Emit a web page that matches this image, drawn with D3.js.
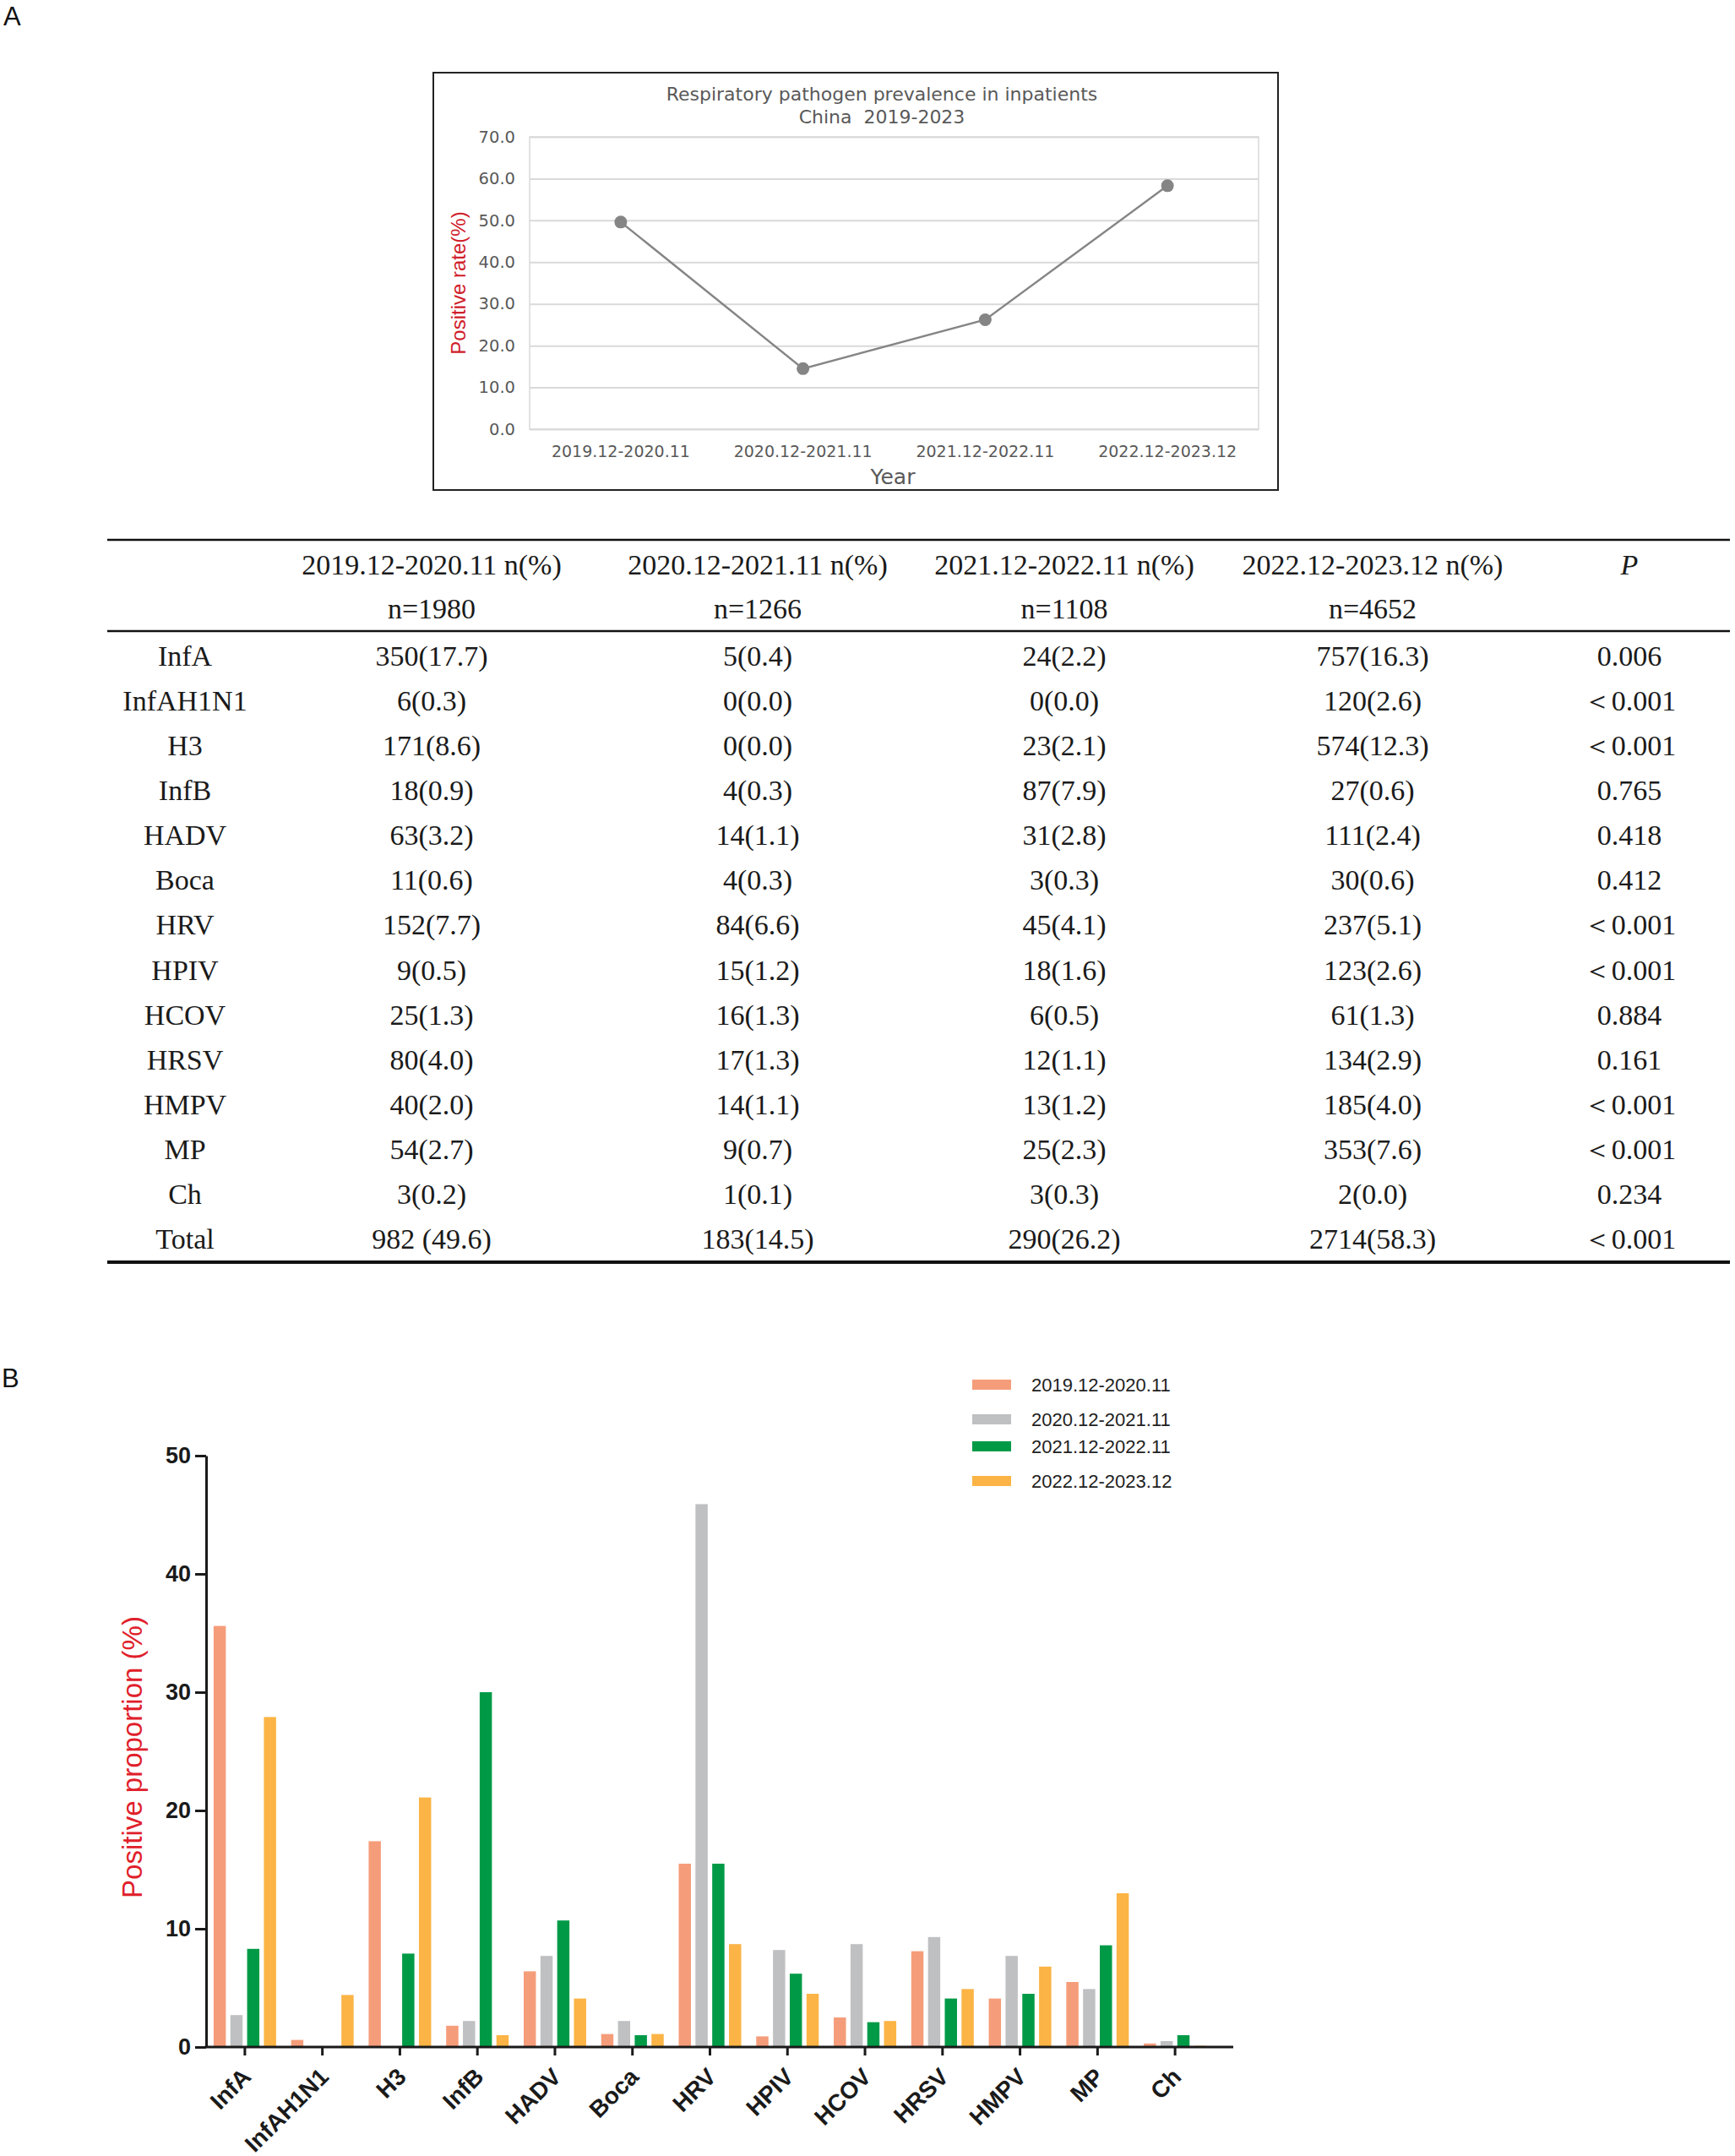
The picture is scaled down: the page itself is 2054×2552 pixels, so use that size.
<!DOCTYPE html>
<html>
<head>
<meta charset="utf-8">
<script src="https://cdn.jsdelivr.net/npm/d3@7"></script>
<style>
  body { margin: 0; background: #fff; }
</style>
</head>
<body>
<script>
// ---- data ----
var periods = ["2019.12-2020.11", "2020.12-2021.11", "2021.12-2022.11", "2022.12-2023.12"];
var totalRate = [49.6, 14.5, 26.2, 58.3];
var sampleSizes = ["n=1980", "n=1266", "n=1108", "n=4652"];

var pathogens = ["InfA", "InfAH1N1", "H3", "InfB", "HADV", "Boca", "HRV", "HPIV", "HCOV", "HRSV", "HMPV", "MP", "Ch"];
var rowNames = pathogens.concat(["Total"]);

var cells2019 = ["350(17.7)", "6(0.3)", "171(8.6)", "18(0.9)", "63(3.2)", "11(0.6)", "152(7.7)", "9(0.5)", "25(1.3)", "80(4.0)", "40(2.0)", "54(2.7)", "3(0.2)", "982 (49.6)"];
var cells2020 = ["5(0.4)", "0(0.0)", "0(0.0)", "4(0.3)", "14(1.1)", "4(0.3)", "84(6.6)", "15(1.2)", "16(1.3)", "17(1.3)", "14(1.1)", "9(0.7)", "1(0.1)", "183(14.5)"];
var cells2021 = ["24(2.2)", "0(0.0)", "23(2.1)", "87(7.9)", "31(2.8)", "3(0.3)", "45(4.1)", "18(1.6)", "6(0.5)", "12(1.1)", "13(1.2)", "25(2.3)", "3(0.3)", "290(26.2)"];
var cells2022 = ["757(16.3)", "120(2.6)", "574(12.3)", "27(0.6)", "111(2.4)", "30(0.6)", "237(5.1)", "123(2.6)", "61(1.3)", "134(2.9)", "185(4.0)", "353(7.6)", "2(0.0)", "2714(58.3)"];
var pValues = ["0.006", "＜0.001", "＜0.001", "0.765", "0.418", "0.412", "＜0.001", "＜0.001", "0.884", "0.161", "＜0.001", "＜0.001", "0.234", "＜0.001"];

// positive proportion (%) among positives, per period
var prop2019 = [35.6, 0.6, 17.4, 1.8, 6.4, 1.1, 15.5, 0.9, 2.5, 8.1, 4.1, 5.5, 0.3];
var prop2020 = [2.7, 0, 0, 2.2, 7.7, 2.2, 45.9, 8.2, 8.7, 9.3, 7.7, 4.9, 0.5];
var prop2021 = [8.3, 0, 7.9, 30.0, 10.7, 1.0, 15.5, 6.2, 2.1, 4.1, 4.5, 8.6, 1.0];
var prop2022 = [27.9, 4.4, 21.1, 1.0, 4.1, 1.1, 8.7, 4.5, 2.2, 4.9, 6.8, 13.0, 0.1];

var seriesColors = ["#f59d7a", "#bfc0c2", "#009a47", "#fbb445"];

var SANS = "Liberation Sans, Arial, sans-serif",
  WIDE = "DejaVu Sans, Verdana, sans-serif",
  SERIF = "Liberation Serif, Times New Roman, serif";

// ---- page ----
var svg = d3.select("body").append("svg")
  .attr("width", 2054)
  .attr("height", 2552)
  .style("font-family", SANS);

svg.append("rect").attr("width", 2054).attr("height", 2552).attr("fill", "#fff");

svg.append("text").attr("x", 4).attr("y", 30).style("font-size", "31px").attr("fill", "#111").text("A");
svg.append("text").attr("x", 2).attr("y", 1642).style("font-size", "31px").attr("fill", "#111").text("B");

/* ---------- line chart (panel A, top) ---------- */
function drawLineChart() {
  var L = 627, R = 1490, T = 162, B = 508;
  var g = svg.append("g").style("font-family", WIDE);

  g.append("rect")
    .attr("x", 513).attr("y", 86).attr("width", 1000).attr("height", 494)
    .attr("fill", "none").attr("stroke", "#222").attr("stroke-width", 2);

  var title = g.append("text").attr("text-anchor", "middle").attr("fill", "#595959")
    .style("font-size", "22px").style("white-space", "pre");
  title.append("tspan").attr("x", 1044).attr("y", 119).text("Respiratory pathogen prevalence in inpatients");
  title.append("tspan").attr("x", 1044).attr("y", 146).text("China  2019-2023");

  var x = d3.scaleBand().domain(periods).range([L, R]);
  var y = d3.scaleLinear().domain([0, 70]).range([B, T]);

  var yAxis = g.append("g")
    .attr("transform", "translate(" + L + ",0)")
    .call(d3.axisLeft(y).ticks(7).tickSize(-(R - L)).tickPadding(17).tickFormat(d3.format(".1f")));
  yAxis.select(".domain").remove();
  yAxis.selectAll("line").attr("stroke", "#d9d9d9").attr("stroke-width", 2);
  yAxis.selectAll("text").attr("fill", "#595959")
    .style("font-size", "19.5px").style("font-family", WIDE);

  g.append("rect")
    .attr("x", L).attr("y", T).attr("width", R - L).attr("height", B - T)
    .attr("fill", "none").attr("stroke", "#d9d9d9").attr("stroke-width", 1.5);

  var xAxis = g.append("g")
    .attr("transform", "translate(0," + B + ")")
    .call(d3.axisBottom(x).tickSize(0).tickPadding(20));
  xAxis.select(".domain").remove();
  xAxis.selectAll("text").attr("fill", "#595959")
    .style("font-size", "19px").style("font-family", WIDE);

  var pts = periods.map(function (p, i) { return { p: p, v: totalRate[i] }; });
  var line = d3.line()
    .x(function (d) { return x(d.p) + x.bandwidth() / 2; })
    .y(function (d) { return y(d.v); });

  g.append("path").datum(pts)
    .attr("d", line).attr("fill", "none")
    .attr("stroke", "#858585").attr("stroke-width", 2.4);

  g.selectAll("circle.pt").data(pts).enter().append("circle")
    .attr("class", "pt")
    .attr("cx", function (d) { return x(d.p) + x.bandwidth() / 2; })
    .attr("cy", function (d) { return y(d.v); })
    .attr("r", 7.5)
    .attr("fill", "#858585");

  g.append("text").attr("x", 1057).attr("y", 573).attr("text-anchor", "middle")
    .attr("fill", "#595959").style("font-size", "25px").text("Year");

  g.append("text")
    .attr("transform", "translate(551,335) rotate(-90)")
    .attr("text-anchor", "middle")
    .style("font-family", SANS)
    .attr("fill", "#d0202a").style("font-size", "24px")
    .text("Positive rate(%)");
}

/* ---------- table (panel A, bottom) ---------- */
function drawTable() {
  var colX = [219, 511, 897, 1260, 1625, 1929];
  var g = svg.append("g")
    .style("font-family", SERIF)
    .style("font-size", "34px").attr("fill", "#1a1a1a").attr("text-anchor", "middle");

  function rule(yy, w) {
    g.append("line").attr("x1", 127).attr("x2", 2048).attr("y1", yy).attr("y2", yy)
      .attr("stroke", "#111").attr("stroke-width", w);
  }
  rule(639, 2.5);
  rule(747, 2.5);
  rule(1494, 4);

  var head = periods.map(function (p) { return p + " n(%)"; });
  g.selectAll("text.h1").data(head).enter().append("text")
    .attr("class", "h1")
    .attr("x", function (d, i) { return colX[i + 1]; })
    .attr("y", 680)
    .text(function (d) { return d; });
  g.append("text").attr("x", colX[5]).attr("y", 680).style("font-style", "italic").text("P");

  g.selectAll("text.h2").data(sampleSizes).enter().append("text")
    .attr("class", "h2")
    .attr("x", function (d, i) { return colX[i + 1]; })
    .attr("y", 732)
    .text(function (d) { return d; });

  var columns = [rowNames, cells2019, cells2020, cells2021, cells2022, pValues];
  var rowY = d3.scaleLinear().domain([0, 13]).range([788, 1478]);

  columns.forEach(function (col, c) {
    g.selectAll("text.c" + c).data(col).enter().append("text")
      .attr("class", "c" + c)
      .attr("x", colX[c])
      .attr("y", function (d, i) { return rowY(i); })
      .text(function (d) { return d; });
  });
}

/* ---------- grouped bars (panel B) ---------- */
function drawBars() {
  var axisY = 2423, topY = 1723, L = 244;
  var series = [prop2019, prop2020, prop2021, prop2022];
  var g = svg.append("g");

  var x0 = d3.scaleBand().domain(pathogens).range([L, 1437]);
  var x1 = d3.scaleBand().domain(periods).range([-37, 37]).paddingInner(0.27);
  var y = d3.scaleLinear().domain([0, 50]).range([axisY, topY]);

  var groups = g.selectAll("g.grp").data(pathogens).enter().append("g")
    .attr("class", "grp")
    .attr("transform", function (d) { return "translate(" + (x0(d) + x0.bandwidth() / 2) + ",0)"; });

  groups.selectAll("rect").data(function (d, i) {
    return periods.map(function (p, s) { return { p: p, s: s, v: series[s][i] }; });
  }).enter().append("rect")
    .attr("x", function (d) { return x1(d.p); })
    .attr("width", x1.bandwidth())
    .attr("y", function (d) { return y(d.v); })
    .attr("height", function (d) { return axisY - y(d.v); })
    .attr("fill", function (d) { return seriesColors[d.s]; });

  var yAxis = g.append("g")
    .attr("transform", "translate(" + L + ",0)")
    .call(d3.axisLeft(y).ticks(5).tickSize(13).tickSizeOuter(0).tickPadding(5));
  yAxis.select(".domain").attr("stroke", "#1a1a1a").attr("stroke-width", 3);
  yAxis.selectAll("line").attr("stroke", "#1a1a1a").attr("stroke-width", 3);
  yAxis.selectAll("text").attr("fill", "#1a1a1a")
    .style("font-size", "27px").style("font-weight", "bold").style("font-family", SANS);

  var xAxis = g.append("g")
    .attr("transform", "translate(0," + axisY + ")")
    .call(d3.axisBottom(x0).tickSize(10).tickSizeOuter(0));
  xAxis.select(".domain").remove();
  xAxis.selectAll("line").attr("stroke", "#1a1a1a").attr("stroke-width", 3);
  xAxis.selectAll("text")
    .attr("y", null).attr("dy", null)
    .attr("text-anchor", "end")
    .attr("transform", "translate(9,37) rotate(-45)")
    .attr("fill", "#1a1a1a")
    .style("font-size", "28px").style("font-weight", "bold").style("font-family", SANS);

  g.append("line").attr("x1", L - 1.5).attr("x2", 1460).attr("y1", axisY).attr("y2", axisY)
    .attr("stroke", "#1a1a1a").attr("stroke-width", 3);

  g.append("text")
    .attr("transform", "translate(168,2080) rotate(-90)")
    .attr("text-anchor", "middle")
    .attr("fill", "#e0202a").style("font-size", "33px")
    .text("Positive proportion (%)");

  // legend, spacing as in the original (uneven)
  var legendY = [1639, 1680, 1712, 1753];
  var lg = g.selectAll("g.leg").data(periods).enter().append("g")
    .attr("class", "leg")
    .attr("transform", function (d, i) { return "translate(1151," + legendY[i] + ")"; });
  lg.append("rect").attr("x", 0).attr("y", -6).attr("width", 46).attr("height", 12)
    .attr("fill", function (d, i) { return seriesColors[i]; });
  lg.append("text").attr("x", 70).attr("y", 8).style("font-size", "22px").attr("fill", "#222")
    .text(function (d) { return d; });
}

drawLineChart();
drawTable();
drawBars();
</script>
</body>
</html>
